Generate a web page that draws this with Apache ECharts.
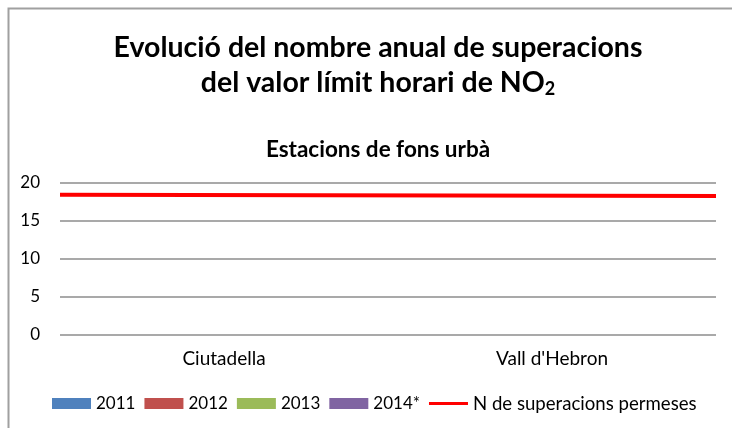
<!DOCTYPE html>
<html>
<head>
<meta charset="utf-8">
<script src="https://cdn.jsdelivr.net/npm/echarts@6/dist/echarts.min.js"></script>
<style>
  html, body { margin: 0; padding: 0; background: #fff; }
  #chart { width: 732px; height: 428px; }
</style>
</head>
<body>
<div id="chart"></div>
<script>
// dades
const categories = ['Ciutadella', "Vall d'Hebron"]
const years = ['2011', '2012', '2013', '2014*']
const values2011 = [0, 0]
const values2012 = [0, 0]
const values2013 = [0, 0]
const values2014 = [0, 0]
const limitName = 'N de superacions permeses'
const limitValues = [18.45, 18.3]
const yTicks = [0, 5, 10, 15, 20]

const barColors = ['#4f81bd', '#c0504d', '#9bbb59', '#8064a2']
const barData = [values2011, values2012, values2013, values2014]
const font = 'Lato, "Open Sans", sans-serif'

const myChart = echarts.init(document.getElementById('chart'))

const option = {
  animation: false,
  textStyle: { fontFamily: font },
  graphic: [{
    type: 'rect',
    left: 6, top: 6,
    shape: { width: 800, height: 500 },
    style: { fill: 'none', stroke: '#a0a0a0', lineWidth: 2 },
    silent: true
  }],
  title: [
    {
      text: '{t|Evolució del nombre anual de superacions}\n{t|del valor límit horari de NO}{s|2}',
      left: 373,
      textAlign: 'center',
      top: 25,
      textStyle: {
        rich: {
          t: { fontSize: 28.5, fontWeight: 'bold', color: '#000', fontFamily: font, lineHeight: 35 },
          s: { fontSize: 18, fontWeight: 'bold', color: '#000', fontFamily: font, lineHeight: 35, padding: [14, 0, 0, 0] }
        }
      }
    },
    {
      text: 'Estacions de fons urbà',
      left: 373,
      textAlign: 'center',
      top: 133,
      textStyle: { fontSize: 22.5, fontWeight: 'bold', color: '#000', fontFamily: font }
    }
  ],
  legend: {
    top: 394,
    left: 52,
    padding: 0,
    itemGap: 9,
    itemWidth: 39,
    itemHeight: 11,
    formatter: name => name === limitName ? '{w|' + name + '}' : name,
    textStyle: {
      fontSize: 17, color: '#000', fontFamily: font,
      rich: { w: { fontSize: 18.6, color: '#000', fontFamily: font } }
    },
    data: years.map(y => ({ name: y, icon: 'rect' })).concat([{
      name: limitName,
      icon: 'path://M0,0M0,4L40,4L40,7L0,7ZM40,11'
    }])
  },
  grid: { left: 60, right: 16, top: 183, bottom: 93 },
  xAxis: [
    {
      type: 'category',
      data: categories,
      axisLine: { show: false },
      axisTick: { show: false },
      axisLabel: { fontSize: 19, color: '#000', margin: 14 }
    },
    {
      type: 'category',
      data: categories,
      boundaryGap: false,
      show: false
    }
  ],
  yAxis: {
    type: 'value',
    min: yTicks[0],
    max: yTicks[yTicks.length - 1],
    interval: 5,
    axisLine: { show: false },
    axisTick: { show: false },
    axisLabel: { fontSize: 17, color: '#000', margin: 20 },
    splitLine: { lineStyle: { color: '#8c8c8c', width: 1.5 } }
  },
  series: years.map((y, i) => ({
    name: y,
    type: 'bar',
    data: barData[i],
    itemStyle: { color: barColors[i] }
  })).concat([{
    name: limitName,
    type: 'line',
    xAxisIndex: 1,
    data: limitValues,
    symbol: 'none',
    lineStyle: { color: '#ff0000', width: 4 },
    itemStyle: { color: '#ff0000' }
  }])
}

myChart.setOption(option)
</script>
</body>
</html>
